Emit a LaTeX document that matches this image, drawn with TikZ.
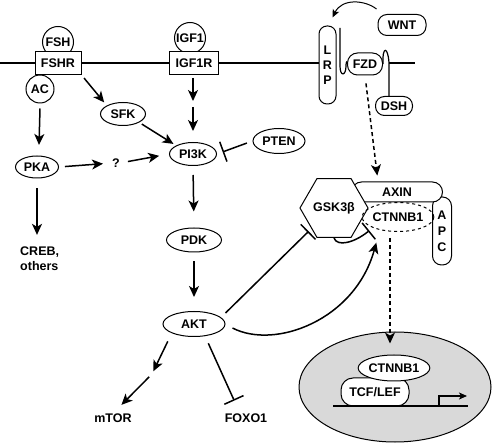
\documentclass[tikz,border=0pt]{standalone}
\usepackage{fontspec}
\setmainfont{Liberation Sans}
\usetikzlibrary{shapes.geometric,arrows.meta,calc}
\begin{document}
\begin{tikzpicture}[x=1pt,y=-1pt,
  every node/.style={font=\bfseries\fontsize{12.5}{15}\selectfont, inner sep=0pt},
  lbl/.style={},
  circ/.style={circle, draw, line width=1pt, fill=white},
  ell/.style={ellipse, draw, line width=1pt, fill=white},
  boxn/.style={rectangle, draw, line width=1pt, fill=white},
  rbox/.style={rectangle, draw, line width=1pt, fill=white},
  mem/.style={line width=1.2pt},
  arr/.style={line width=1.5pt, -{Stealth[length=11pt,width=10pt,inset=3pt]}},
  arrthin/.style={line width=1pt, -{Stealth[length=8pt,width=7pt,inset=2pt]}},
  darr/.style={line width=1.5pt, dash pattern=on 4pt off 3pt, -{Stealth[length=11pt,width=10pt,inset=3pt]}},
  inh/.style={line width=1.5pt, -{Bar[width=21pt]}},
]
\useasboundingbox (0,0) rectangle (498,443);

% membrane
\draw[mem] (0,63) -- (319,63);

% left receptors
\node[circ, minimum size=31] (fsh) at (58,42) {FSH};
\node[boxn, minimum width=46, minimum height=23] (fshr) at (58,63) {FSHR};
\node[circ, minimum size=28] (ac) at (40,89) {AC};
\node[circ, minimum size=31] (igf1) at (190,38) {IGF1};
\node[boxn, minimum width=49, minimum height=23] (igf1r) at (194,63) {IGF1R};

\node[ell, minimum width=45, minimum height=23] (sfk) at (123,114) {SFK};
\node[ell, minimum width=47, minimum height=23] (pi3k) at (193,154) {PI3K};
\node[ell, minimum width=52, minimum height=25] (pten) at (279,141) {PTEN};
\node[ell, minimum width=43, minimum height=22] (pka) at (37,167) {PKA};
\node[lbl] (q) at (116,163) {?};
\node[lbl, align=left, anchor=west] (creb) at (20,259) {CREB,\\others};
\node[ell, minimum width=55, minimum height=24] (pdk) at (194,240) {PDK};
\node[ell, minimum width=62, minimum height=25] (akt) at (194,324) {AKT};
\node[lbl] (mtor) at (113,418) {mTOR};
\node[lbl] (foxo) at (246,418) {FOXO1};
\coordinate (igfmid) at (193,104);
\coordinate (mtmid) at (152,374);

% left arrows
\draw[arr] (ac.south) ++(0,5) coordinate (acs) -- (39,145) coordinate (pkat);
\draw[arr, shorten <=4pt, shorten >=4pt] (fshr.south east) -- (sfk.north west);
\draw[arr, shorten <=3pt, shorten >=3pt] (sfk.south east) -- (pi3k.north west);
\draw[arr, shorten <=3pt, shorten >=3pt] (igf1r.south -| igfmid) -- (igfmid);
\draw[arr, shorten <=3pt, shorten >=11pt] (igfmid) -- (pi3k.north);
\draw[arr, shorten <=6pt, shorten >=9pt] (pka.east) -- (q.west);
\draw[arr, shorten <=8pt, shorten >=10pt] (q.east) -- (pi3k.west);
\draw[inh, shorten <=6pt, shorten >=6pt] (pten.west) -- (pi3k.east);
\draw[arr, shorten <=10pt, shorten >=12pt] (pka.south) -- (creb.north -| pka.south);
\draw[arr, shorten <=9pt, shorten >=16pt] (pi3k.south) -- (pdk.north);
\draw[arr, shorten <=9pt, shorten >=14pt] (pdk.south) -- (akt.north);
\draw[arr, shorten <=9pt, shorten >=3pt] (akt.south west) -- (mtmid);
\draw[arr, shorten <=4pt, shorten >=12pt] (mtmid) -- (mtor.north);
\draw[inh, shorten <=8pt, shorten >=14pt] ($(akt.south)+(11,-1)$) -- ($(foxo.north)+(-6,0)$);

% Wnt side
\node[rbox, rounded corners=8, minimum width=17, minimum height=78, align=center] (lrp) at (327.5,65) {L\\R\\P};
\node[rbox, rounded corners=10, minimum width=35, minimum height=22] (fzd) at (365,64) {FZD};
\coordinate (archR) at (389,63);
\node[rbox, rounded corners=9, minimum width=37, minimum height=19] (dsh) at (394,106) {DSH};
\node[rbox, rounded corners=9, minimum width=48, minimum height=21] (wnt) at (402,25) {WNT};
\draw[mem] (340,28) -- (340,66) .. controls (340,77) and (346,76) .. (346,66) .. controls (346,60) and (347,63) .. (fzd.west);
\draw[mem] (fzd.east) .. controls (382,46) and (388,46) .. (archR) -- (archR |- dsh.north);
\draw[mem] (archR) -- (415,63);
\draw[arrthin] (wnt.north west) ++(-1,-5) coordinate (wnts) .. controls (365,0) and (342,-2) .. ($(lrp.north)+(5,-8)$);

% destruction complex
\node[rbox, rounded corners=9, minimum width=19, minimum height=68, align=center, font=\bfseries\fontsize{12.5}{16}\selectfont] (apc) at (442,231) {A\\P\\C};
\node[rbox, rounded corners=10, minimum width=91, minimum height=20] (axin) at (397,192) {AXIN};
\node[regular polygon, regular polygon sides=6, draw, line width=1pt, fill=white, minimum size=55] (gsk) at (334,208) {GSK3β};
\node[ellipse, draw, dashed, line width=1pt, minimum width=66, minimum height=29] (ct1) at (398,217) {CTNNB1};

\draw[darr, shorten <=8pt, shorten >=6pt] (fzd.south) -- ($(axin.north)+(-19,0)$);
\draw[inh] (gsk.south) .. controls (337,247) and (354,243) .. ($(ct1.south west)+(-3,3)$);
\draw[inh, shorten >=2pt] ($(akt.east)+(0,-11)$) -- ($(gsk.south west)+(-2,0)$);
\draw[arr] ($(akt.east)+(7,4)$) .. controls (275,350) and (355,320) .. ($(ct1.south west)+(4,15)$);

% nucleus
\node[ellipse, draw, line width=1pt, fill=black!15, minimum width=192, minimum height=110] (nuc) at (395,387) {};
\node[rbox, rounded corners=12, minimum width=68, minimum height=28] (tcf) at (375,392) {TCF/LEF};
\node[ell, minimum width=65, minimum height=26] (ct2) at (394,368) {CTNNB1};
\coordinate (dnaL) at (333,406);
\coordinate (dnaR) at (468,406);
\coordinate (tss) at (439,406);
\draw[line width=1.2pt] (dnaL) -- (dnaR);
\draw[line width=1.2pt, -{Stealth[length=8pt,width=7pt,inset=2pt]}] (tss) -- ++(0,-10) -- ++(28,0);
\draw[darr, shorten <=6pt] ($(ct1.south)+(-8,0)$) -- ($(nuc.north)+(-5,12)$);
\end{tikzpicture}
\end{document}
